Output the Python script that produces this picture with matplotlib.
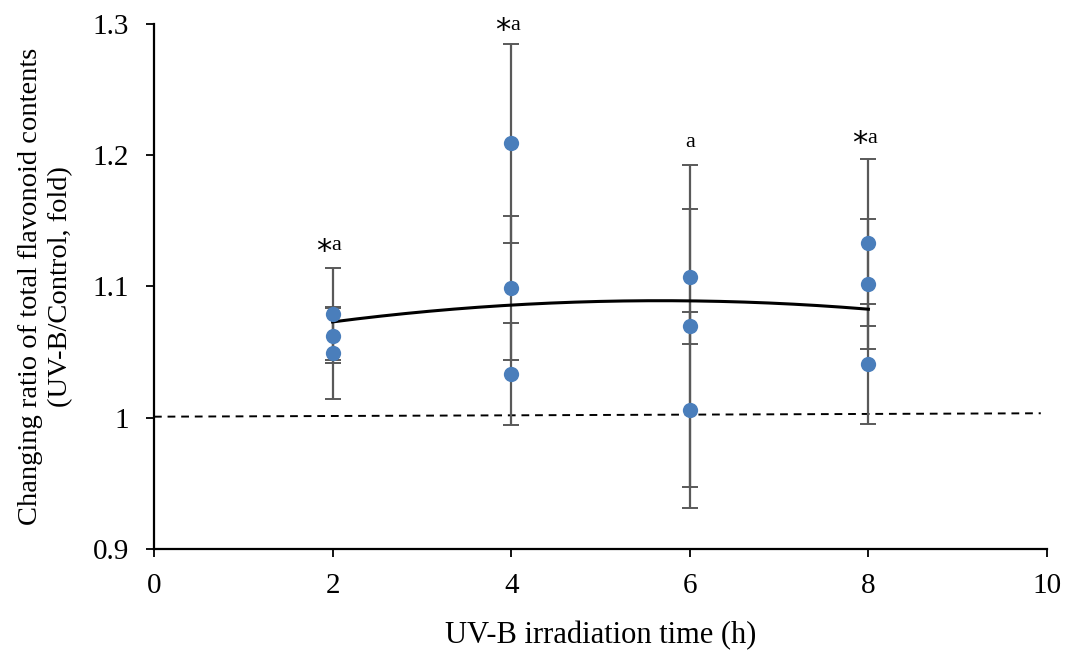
import numpy as np
import matplotlib
matplotlib.use("Agg")
import matplotlib.pyplot as plt

plt.rcParams['font.family'] = ['Liberation Serif', 'DejaVu Serif']

# irradiation time (h), three replicates per time point
times = [2, 4, 6, 8]
rep_values = [
    [1.079, 1.0625, 1.0496],
    [1.209, 1.099, 1.0333],
    [1.1075, 1.0699, 1.0059],
    [1.1334, 1.1016, 1.041],
]
rep_errors = [
    [0.035, 0.021, 0.035],
    [0.076, 0.055, 0.0386],
    [0.0513, 0.1227, 0.075],
    [0.0635, 0.0496, 0.046],
]
labels = ["*a", "*a", "a", "*a"]
label_y = [1.131, 1.299, 1.21, 1.213]

# control reference line (dashed)
control_x = [0, 9.93]
control_y = [1.0008, 1.0034]

fig = plt.figure(figsize=(10.67, 6.5), dpi=100)
ax = fig.add_axes([0.1443, 0.1554, 0.837, 0.8077])

xs, ys = [], []
for t, vals, errs in zip(times, rep_values, rep_errors):
    for v, e in zip(vals, errs):
        xs.append(t)
        ys.append(v)
        ax.errorbar(t, v, yerr=e, fmt='none', ecolor='#595959', elinewidth=1.6,
                    capsize=6, capthick=1.4, zorder=2)
ax.plot(xs, ys, 'o', color='#4a7ebb', markersize=11, zorder=4, markeredgewidth=0)

# quadratic trend line through all replicates
coef = np.polyfit(xs, ys, 2)
tx = np.linspace(min(times), max(times), 200)
ax.plot(tx, np.polyval(coef, tx), color='black', lw=2.2, zorder=3)

ax.plot(control_x, control_y, color='black', lw=1.4, ls=(0, (4, 3)), zorder=1)

for t, lab, ly in zip(times, labels, label_y):
    if lab.startswith("*"):
        ax.text(t - 0.01, ly - 0.004, "*", fontsize=22, ha='right', va='center',
                family=['DejaVu Sans'])
        ax.text(t - 0.01, ly, "a", fontsize=16, ha='left', va='center')
    else:
        ax.text(t, ly, "a", fontsize=16, ha='center', va='center')

ax.set_xlim(0, 10)
ax.set_ylim(0.9, 1.3)
ax.set_xticks([0, 2, 4, 6, 8, 10])
ax.set_yticks([0.9, 1.0, 1.1, 1.2, 1.3])
ax.set_yticklabels(["0.9", "1", "1.1", "1.2", "1.3"])
ax.tick_params(direction='out', length=6, width=1.3, labelsize=21)
ax.tick_params(axis='y', pad=12)
ax.tick_params(axis='x', pad=11)
for s in ['top', 'right']:
    ax.spines[s].set_visible(False)
for s in ['left', 'bottom']:
    ax.spines[s].set_linewidth(1.6)

ax.set_xlabel("UV-B irradiation time (h)", fontsize=22, labelpad=16)
ax.set_ylabel("Changing ratio of total flavonoid contents\n(UV-B/Control, fold)",
              fontsize=20.5, labelpad=14, linespacing=1.25)

fig.savefig("out.png", dpi=100)
